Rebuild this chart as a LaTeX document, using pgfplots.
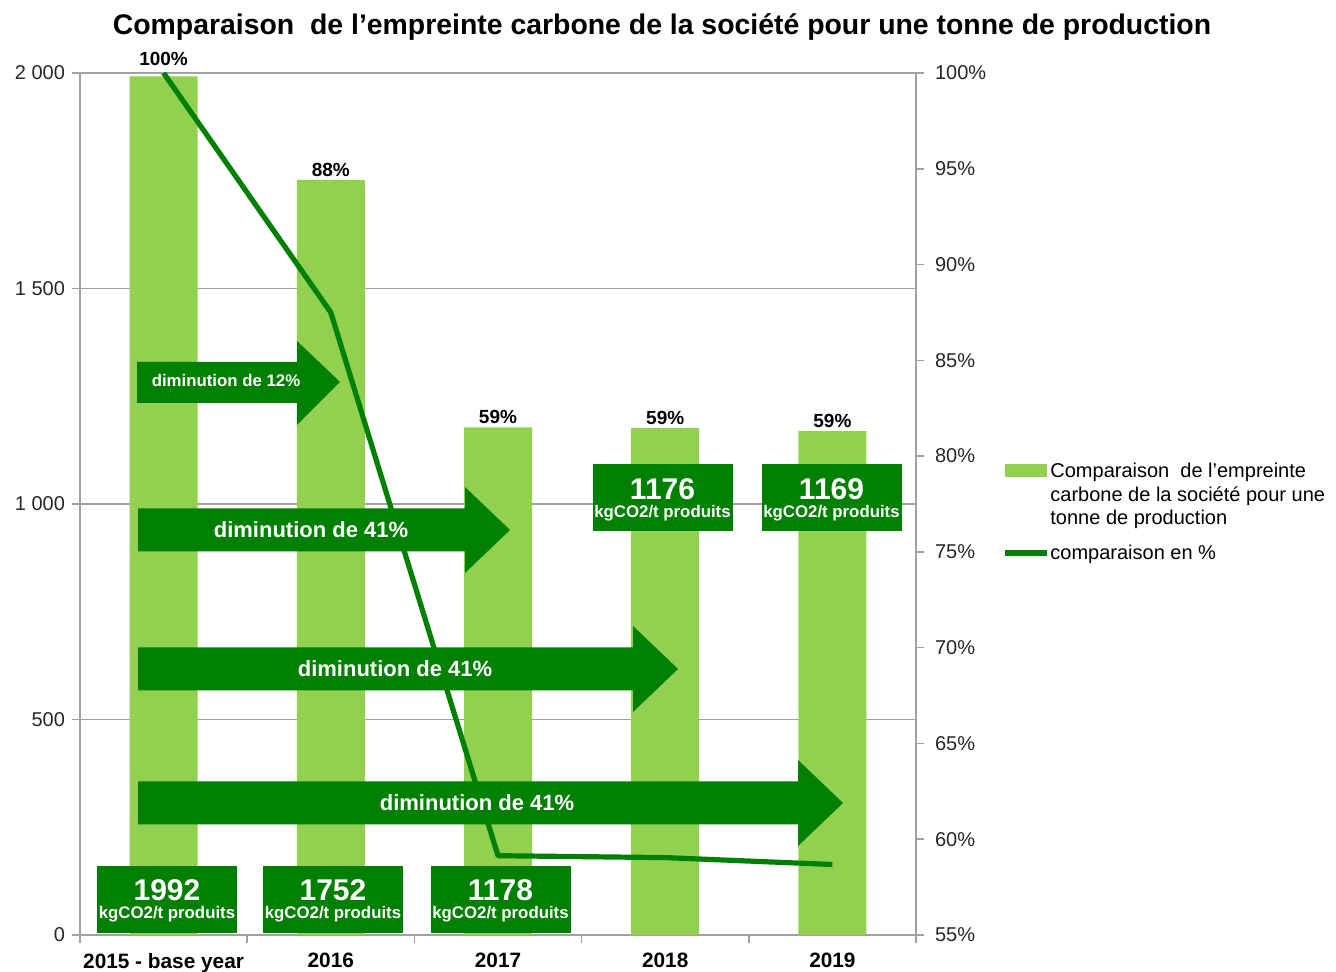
\documentclass[border=0pt]{standalone}
\usepackage{pgfplots}
\pgfplotsset{compat=1.18}
\usepackage{fontspec}
\setmainfont{Liberation Sans}
\definecolor{barg}{HTML}{92D050}
\definecolor{dg}{HTML}{008000}
\definecolor{axg}{HTML}{A0A0A0}
\newcommand\fs[2]{\fontsize{#1}{#2}\selectfont}
\begin{document}
\begin{tikzpicture}
\useasboundingbox (0,0) rectangle (668pt,486pt);
\begin{axis}[
  at={(40pt,18.5pt)}, anchor=south west,
  width=418pt, height=431pt, scale only axis,
  xmin=-0.5, xmax=4.5, ymin=0, ymax=2000,
  axis x line*=bottom, axis y line*=left,
  axis line style={axg, line width=0.75pt},
  tick style={axg, line width=0.75pt},
  tick align=outside, major tick length=4pt,
  ymajorgrids, grid style={axg, line width=0.75pt},
  ytick={0,500,1000,1500,2000},
  yticklabels={0,500,1 000,1 500,2 000},
  yticklabel style={font=\fs{10}{12}, text=black!85},
  xtick={-0.5,0.5,1.5,2.5,3.5,4.5},
  x tick label as interval,
  xticklabels={2015 - base year,2016,2017,2018,2019},
  xticklabel style={font=\bfseries\fs{10.4}{12}, text=black, yshift=-1.5pt},
  ybar, bar width=34pt,
  clip=false,
  nodes near coords={\pgfplotspointmeta\%},
  point meta=explicit symbolic,
  visualization depends on={\thisrow{dy} \as \dy},
  every node near coord/.style={font=\bfseries\fs{9.5}{10}, text=black, inner sep=1.5pt, yshift=\dy pt},
]
\addplot[fill=barg, draw=none] table[meta=p] {
x y p dy
0 1992 100 3.5
1 1752 88 0
2 1178 59 0
3 1176 59 0
4 1169 59 0
};
\end{axis}
% annotations (shapes)
\begin{scope}[x=0.5pt, y=-0.5pt, shift={(0pt,486pt)}]
  \node[font=\bfseries\fs{14.2}{16}, anchor=base] at (662,35) {Comparaison\ \ de l’empreinte carbone de la société pour une tonne de production};
  % arrows
  \fill[dg] (137,362) -- (297,362) -- (297,341) -- (340,382) -- (297,425) -- (297,403) -- (137,403) -- cycle;
  \fill[dg] (138,508.5) -- (465,508.5) -- (465,487) -- (510,530) -- (465,573) -- (465,551.5) -- (138,551.5) -- cycle;
  \fill[dg] (138,647.5) -- (633,647.5) -- (633,626) -- (678,669) -- (633,712) -- (633,690.5) -- (138,690.5) -- cycle;
  \fill[dg] (138,781.5) -- (798,781.5) -- (798,760) -- (843,803) -- (798,846) -- (798,824.5) -- (138,824.5) -- cycle;
  % value boxes
  \foreach \cx/\cy/\v in {167/899.5/1992, 333/899.5/1752, 500.5/899.5/1178, 662.5/498/1176, 831.5/498/1169}{
    \fill[dg] ({\cx-70},{\cy-33.5}) rectangle ({\cx+70},{\cy+33.5});
    \node[white, font=\bfseries\fs{15}{16}] at (\cx,{\cy-9}) {\v};
    \node[white, font=\bfseries\fs{8.4}{10}] at (\cx,{\cy+15}) {kgCO2/t produits};
  }
  % legend
  \fill[barg] (1005,464) rectangle (1047,477);
  \node[anchor=base west, font=\fs{10}{12}, inner sep=0pt] at (1050,478) {Comparaison\ \ de l’empreinte};
  \node[anchor=base west, font=\fs{10}{12}, inner sep=0pt] at (1050,502) {carbone\ de\ la société pour\ une};
  \node[anchor=base west, font=\fs{10}{12}, inner sep=0pt] at (1050,525) {tonne\ de production};
  \draw[dg, line width=2.75pt] (1005,553) -- (1047,553);
  \node[anchor=base west, font=\fs{10}{12}, inner sep=0pt] at (1050,560) {comparaison en \%};
\end{scope}
\begin{axis}[
  at={(40pt,18.5pt)}, anchor=south west,
  width=418pt, height=431pt, scale only axis,
  xmin=-0.5, xmax=4.5, ymin=55, ymax=100,
  axis x line=none, axis y line*=right,
  axis line style={axg, line width=0.75pt},
  tick style={axg, line width=0.75pt},
  tick align=outside, major tick length=4pt,
  ytick={55,60,65,70,75,80,85,90,95,100},
  yticklabels={55\%,60\%,65\%,70\%,75\%,80\%,85\%,90\%,95\%,100\%},
  yticklabel style={font=\fs{10}{12}, text=black!85, xshift=2pt},
]
\addplot[dg, line width=2.6pt, line join=round] coordinates {(0,100) (1,87.5) (2,59.14) (3,59.04) (4,58.68)};
\end{axis}
% arrow texts on top of the line
\begin{scope}[x=0.5pt, y=-0.5pt, shift={(0pt,486pt)}]
  \node[white, font=\bfseries\fs{8.4}{10}] at (226,381) {diminution de 12\%};
  \node[white, font=\bfseries\fs{11}{13}] at (311,530) {diminution\ de 41\%};
  \node[white, font=\bfseries\fs{11}{13}] at (395,669) {diminution\ de 41\%};
  \node[white, font=\bfseries\fs{11}{13}] at (477,803) {diminution\ de 41\%};
\end{scope}
\end{tikzpicture}
\end{document}
